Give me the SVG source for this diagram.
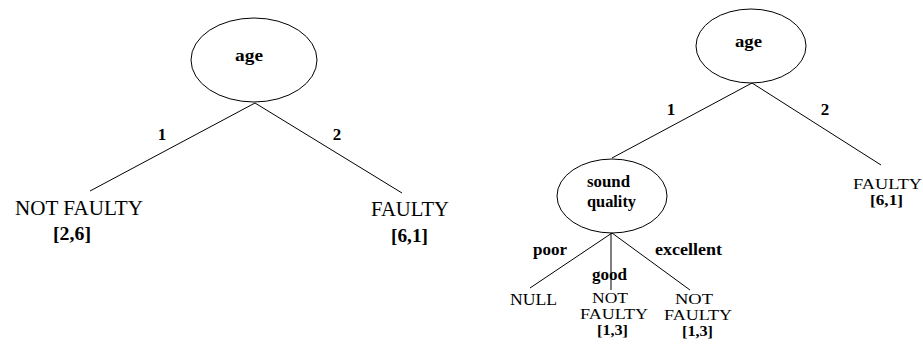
<svg xmlns="http://www.w3.org/2000/svg" width="923" height="344" viewBox="0 0 923 344">
<style>
.n{fill:none;stroke:#000;stroke-width:1}
.e{stroke:#000;stroke-width:1;fill:none}
.b{font-family:"Liberation Serif",serif;font-weight:bold;font-size:17px;fill:#000;text-anchor:middle}
.r{font-family:"Liberation Serif",serif;font-size:17px;fill:#000;text-anchor:middle}
.s{font-family:"Liberation Serif",serif;font-size:14.4px;fill:#000;text-anchor:middle}
.rl{font-family:"Liberation Serif",serif;font-size:20px;fill:#000;text-anchor:middle}
.bl{font-family:"Liberation Serif",serif;font-weight:bold;font-size:19px;fill:#000;text-anchor:middle}
.bt{font-weight:bold}
</style>
<rect width="923" height="344" fill="#fff"/>
<g id="connectors">
  <line class="e" x1="255" y1="103" x2="90" y2="191"/>
  <line class="e" x1="255" y1="103" x2="402" y2="193"/>
  <line class="e" x1="752" y1="83" x2="612" y2="158"/>
  <line class="e" x1="752" y1="83" x2="881" y2="165"/>
  <line class="e" x1="612" y1="233" x2="530" y2="288"/>
  <line class="e" x1="611" y1="233" x2="611" y2="290" stroke-width="1.5"/>
  <line class="e" x1="612" y1="233" x2="690" y2="290"/>
  <text class="b" x="162" y="140">1</text>
  <text class="b" x="337" y="140">2</text>
  <text class="b" x="671" y="115">1</text>
  <text class="b" x="825" y="115">2</text>
  <text class="b" x="550" y="255" textLength="34" lengthAdjust="spacingAndGlyphs">poor</text>
  <text class="b" x="609.5" y="280" textLength="35" lengthAdjust="spacingAndGlyphs">good</text>
  <text class="b" x="688.5" y="255" textLength="67" lengthAdjust="spacingAndGlyphs">excellent</text>
</g>
<g id="age-left">
  <ellipse class="n" cx="254" cy="60" rx="63" ry="42"/>
  <text class="b" x="249" y="61" textLength="28" lengthAdjust="spacingAndGlyphs">age</text>
</g>
<g id="not-faulty-left">
  <text class="rl" x="79" y="215" textLength="128" lengthAdjust="spacingAndGlyphs">NOT FAULTY</text>
  <text class="bl" x="72" y="240" textLength="38" lengthAdjust="spacingAndGlyphs">[2,6]</text>
</g>
<g id="faulty-left">
  <text class="rl" x="410" y="216" textLength="78" lengthAdjust="spacingAndGlyphs">FAULTY</text>
  <text class="bl" x="409.5" y="242" textLength="37" lengthAdjust="spacingAndGlyphs">[6,1]</text>
</g>
<g id="age-right">
  <ellipse class="n" cx="751" cy="46" rx="55" ry="37"/>
  <text class="b" x="748.5" y="47" textLength="27" lengthAdjust="spacingAndGlyphs">age</text>
</g>
<g id="faulty-right">
  <text class="s" x="887.5" y="189"><tspan x="887.5" textLength="69" lengthAdjust="spacingAndGlyphs">FAULTY</tspan><tspan class="bt" x="886.5" dy="16" textLength="33" lengthAdjust="spacingAndGlyphs">[6,1]</tspan></text>
</g>
<g id="sound-quality">
  <ellipse class="n" cx="612" cy="196" rx="55" ry="37"/>
  <text class="b" x="608.5" y="187"><tspan x="608.5" textLength="43" lengthAdjust="spacingAndGlyphs">sound</tspan><tspan x="611.5" dy="20" textLength="49" lengthAdjust="spacingAndGlyphs">quality</tspan></text>
</g>
<g id="null">
  <text class="r" x="533.5" y="305" textLength="47" lengthAdjust="spacingAndGlyphs">NULL</text>
</g>
<g id="not-faulty-good">
  <text class="s" x="610" y="303"><tspan x="610" textLength="36" lengthAdjust="spacingAndGlyphs">NOT</tspan><tspan x="614" dy="16" textLength="68" lengthAdjust="spacingAndGlyphs">FAULTY</tspan><tspan class="bt" x="612.5" dy="16" textLength="31" lengthAdjust="spacingAndGlyphs">[1,3]</tspan></text>
</g>
<g id="not-faulty-excellent">
  <text class="s" x="694" y="304"><tspan x="694" textLength="38" lengthAdjust="spacingAndGlyphs">NOT</tspan><tspan x="698" dy="16" textLength="68" lengthAdjust="spacingAndGlyphs">FAULTY</tspan><tspan class="bt" x="697.5" dy="16" textLength="31" lengthAdjust="spacingAndGlyphs">[1,3]</tspan></text>
</g>
</svg>
